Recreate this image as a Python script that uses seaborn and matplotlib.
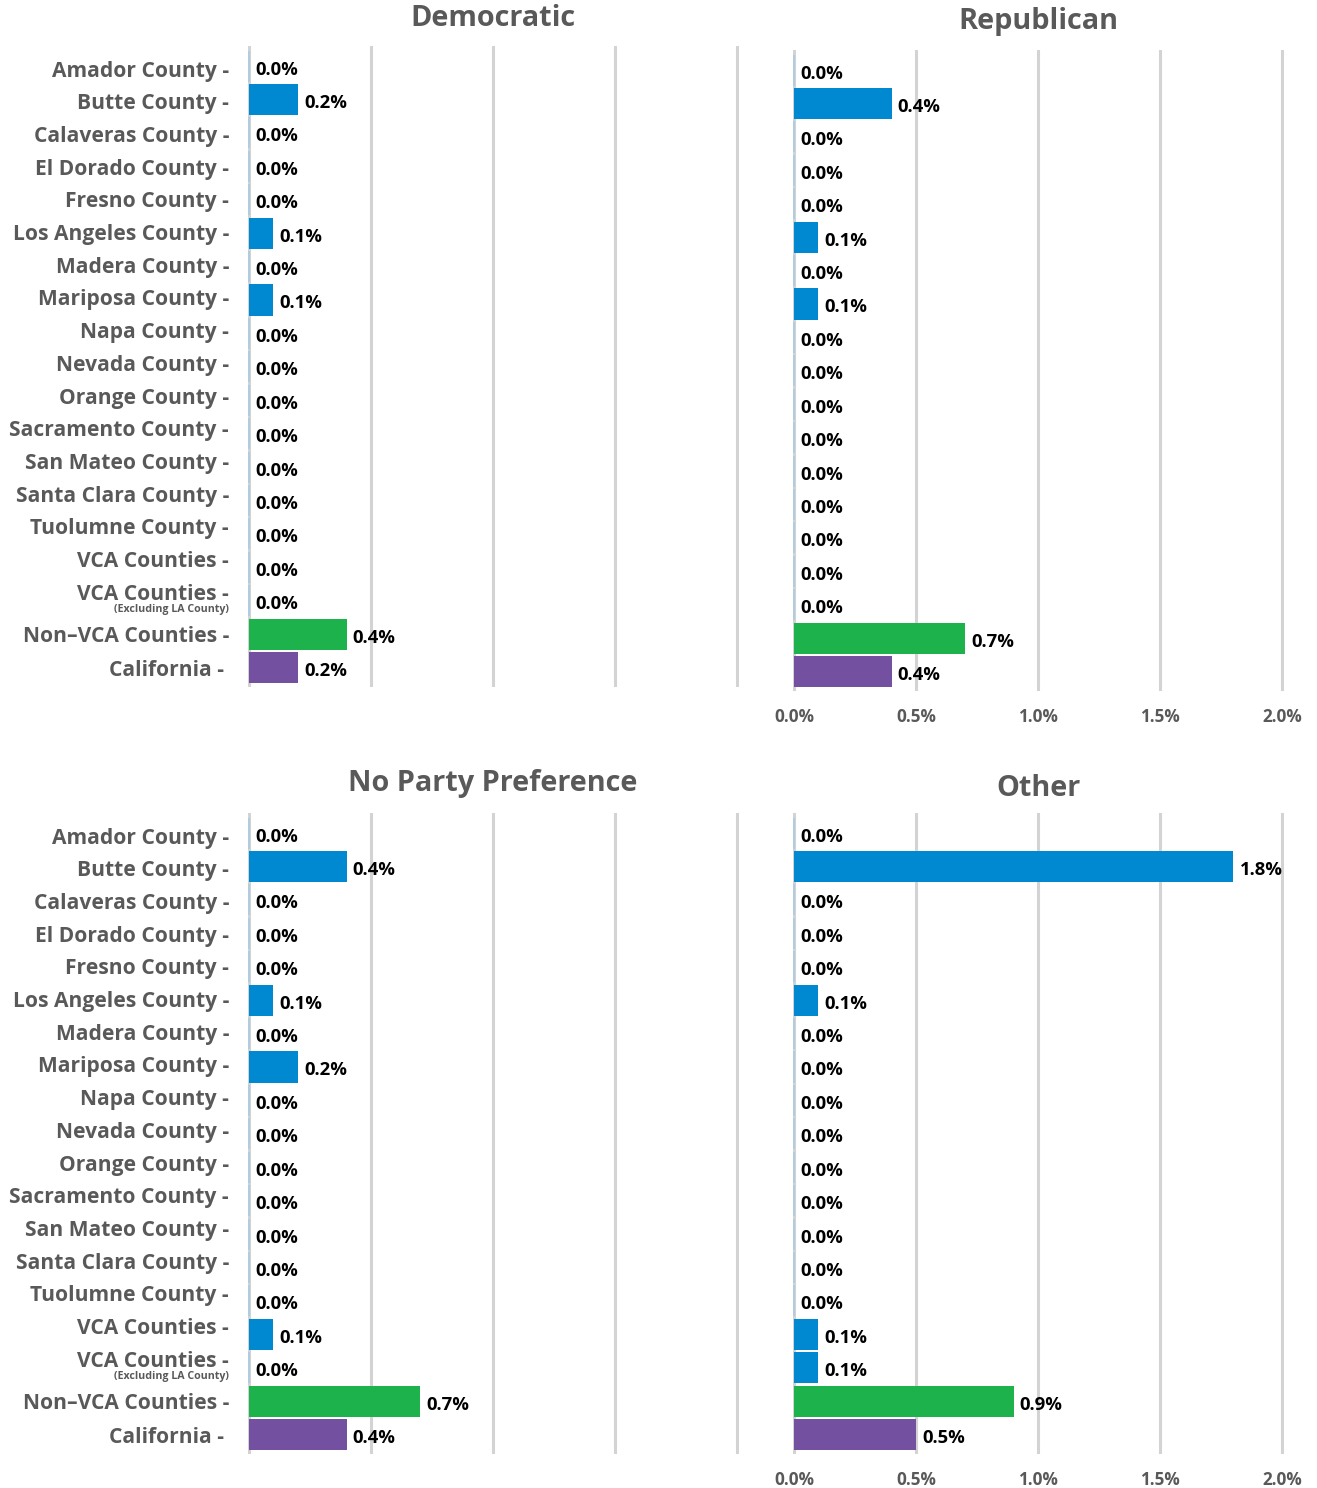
import matplotlib
matplotlib.use("Agg")
import matplotlib.pyplot as plt
import seaborn as sns
import pandas as pd
import numpy as np

categories = ["Amador County", "Butte County", "Calaveras County", "El Dorado County",
              "Fresno County", "Los Angeles County", "Madera County", "Mariposa County",
              "Napa County", "Nevada County", "Orange County", "Sacramento County",
              "San Mateo County", "Santa Clara County", "Tuolumne County", "VCA Counties",
              "VCA Counties (Excluding LA County)", "Non\u2013VCA Counties", "California"]
groups = ["county"] * 17 + ["nonvca", "state"]

democratic = [0.0, 0.2, 0.0, 0.0, 0.0, 0.1, 0.0, 0.1, 0.0, 0.0, 0.0, 0.0, 0.0, 0.0, 0.0, 0.0, 0.0, 0.4, 0.2]
republican = [0.0, 0.4, 0.0, 0.0, 0.0, 0.1, 0.0, 0.1, 0.0, 0.0, 0.0, 0.0, 0.0, 0.0, 0.0, 0.0, 0.0, 0.7, 0.4]
no_party = [0.0, 0.4, 0.0, 0.0, 0.0, 0.1, 0.0, 0.2, 0.0, 0.0, 0.0, 0.0, 0.0, 0.0, 0.0, 0.1, 0.0, 0.7, 0.4]
other = [0.0, 1.8, 0.0, 0.0, 0.0, 0.1, 0.0, 0.0, 0.0, 0.0, 0.0, 0.0, 0.0, 0.0, 0.0, 0.1, 0.1, 0.9, 0.5]

titles = ["Democratic", "Republican", "No Party Preference", "Other"]
series = [democratic, republican, no_party, other]
xticks = [0.0, 0.5, 1.0, 1.5, 2.0]

palette = {"county": "#0088D1", "nonvca": "#1DB24B", "state": "#7451A0"}
GRAY = "#595959"
GRID = "#D3D3D3"
ZERO = "#A9CBE3"

sns.set_theme(style="white")
plt.rcParams["font.family"] = ["Open Sans", "DejaVu Sans"]

W, H = 1317, 1488
fig = plt.figure(figsize=(W / 100, H / 100), dpi=100)

def px_axes(left, top, right, bottom):
    return fig.add_axes([left / W, 1 - bottom / H, (right - left) / W, (bottom - top) / H])

XMIN, XMAX = -0.005, 2.01
PPU = 244.0
ROWPX = 33.45
boxes = [(249, 46, 687), (794, 50, 691), (249, 813, 1454), (794, 813, 1454)]
title_y = [19, 22, 783, 789]

n = len(categories)
# label placement (layout): labels drift slightly upward relative to bars, as in the source
label_pos = []
for i in range(n):
    if i <= 16:
        off_px = 2.5 - 0.72 * i
    else:
        off_px = 0.0
    label_pos.append(i + off_px / ROWPX)

for k, (title, vals) in enumerate(zip(titles, series)):
    x0, top, bottom = boxes[k]
    left = x0 + XMIN * PPU
    right = x0 + XMAX * PPU
    ax = px_axes(left, top, right, bottom)
    df = pd.DataFrame({"county": categories, "value": vals, "group": groups})
    sns.barplot(data=df, y="county", x="value", hue="group", palette=palette,
                dodge=False, width=0.93, orient="h", legend=False, ax=ax,
                saturation=1.0, zorder=3)
    for p in ax.patches:
        if p.get_width() == 0:
            p.set_edgecolor(ZERO)
            p.set_linewidth(1.2)
        else:
            p.set_linewidth(0)
    ax.set_xlim(XMIN, XMAX)
    ax.set_ylim(n - 1 + 0.58, -0.6)
    ax.set_xticks(xticks)
    for xv in xticks:
        ax.axvline(xv, color=GRID, lw=2.2, zorder=1)
    for s in ax.spines.values():
        s.set_visible(False)
    ax.set_xlabel("")
    ax.set_ylabel("")
    ax.tick_params(length=0)
    # value labels
    for i, v in enumerate(vals):
        ax.annotate(f"{v:.1f}%", xy=(v, i), xytext=(4.5, -2.5), textcoords="offset points",
                    ha="left", va="center", fontsize=13.3, fontweight="bold", color="black",
                    zorder=5)
    if k % 2 == 0:
        labels = [c + " -" for c in categories]
        labels[16] = "VCA Counties -"
        labels[18] = "California - "
        ax.set_yticks(label_pos)
        ax.set_yticklabels(labels, fontsize=15.1, fontweight="bold", color=GRAY)
        ax.tick_params(axis="y", pad=13.5)
        ax.annotate("(Excluding LA County)", xy=(0, label_pos[16]),
                    xycoords=("axes fraction", "data"),
                    xytext=(-13.5, -12.5), textcoords="offset points", ha="right", va="center",
                    fontsize=7.7, fontweight="bold", color=GRAY)
        ax.set_xticklabels([])
    else:
        ax.set_yticks(range(n))
        ax.set_yticklabels([])
        ax.set_xticklabels([f"{t:.1f}%" for t in xticks], fontsize=12.3, fontweight="bold",
                           color=GRAY)
        ax.tick_params(axis="x", pad=12)
    cx = (x0 + x0 + 2.0 * PPU) / 2
    fig.text(cx / W, 1 - title_y[k] / H, title, ha="center", va="center",
             fontsize=20.8, fontweight="bold", color=GRAY)

fig.savefig("out.png", dpi=100, facecolor="white")
